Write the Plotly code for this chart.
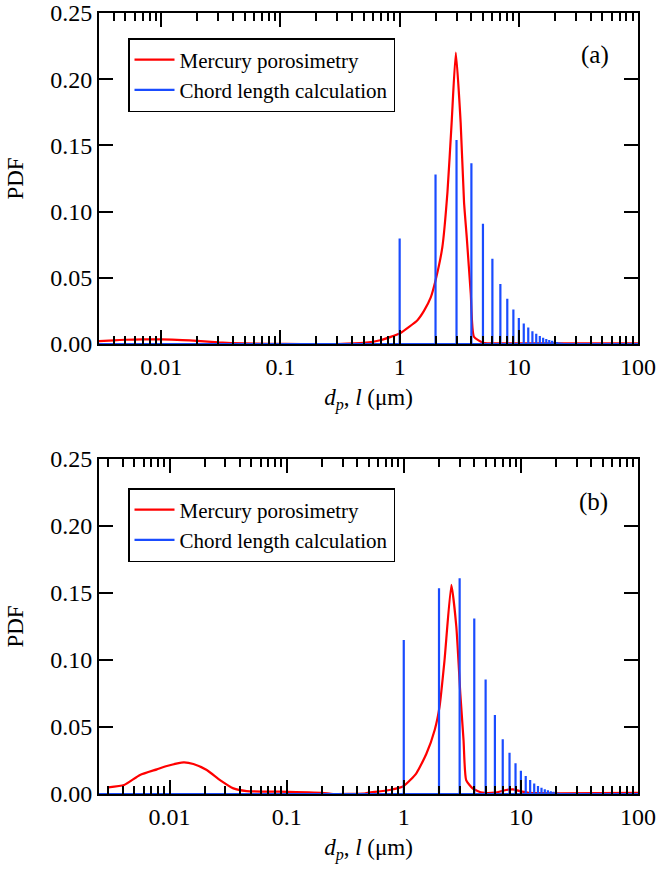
import plotly.graph_objects as go
import math

# ---------------- data ----------------
# Mercury porosimetry PDF, panel (a)
hg_a_d = [0.003, 0.004, 0.005, 0.007, 0.01, 0.015, 0.02, 0.03, 0.05, 0.08, 0.15, 0.3,
          0.5, 0.7, 1.0, 1.2, 1.41, 1.6, 1.82, 2.0, 2.28, 2.52, 2.73, 2.96, 3.25, 3.47,
          3.66, 3.95, 4.2, 5.0, 7.0, 100.0]
hg_a_pdf = [0.0022, 0.0028, 0.0032, 0.0035, 0.0035, 0.0030, 0.0023, 0.0012, 0.0004, 0.0001, 0.0, 0.0,
            0.0008, 0.0030, 0.0080, 0.0130, 0.0180, 0.0250, 0.0350, 0.0480, 0.0730, 0.1150, 0.1670, 0.2200, 0.1670, 0.1070,
            0.0800, 0.0380, 0.0055, 0.0010, 0.0005, 0.0005]

# Mercury porosimetry PDF, panel (b)
hg_b_d = [0.003, 0.0041, 0.0056, 0.0078, 0.0095, 0.0132, 0.016, 0.0208, 0.027, 0.0351,
          0.0455, 0.0875, 0.2, 0.25, 0.45, 0.5, 0.76, 1.0, 1.28, 1.56, 1.84, 2.02, 2.23, 2.55, 2.81,
          3.04, 3.24, 3.41, 3.89, 4.7, 6.0, 7.5, 8.5, 10.0, 12.0, 20.0, 100.0]
hg_b_pdf = [0.0050, 0.0067, 0.0142, 0.0184, 0.0209, 0.0236, 0.0224, 0.0179, 0.0104, 0.0042,
            0.0022, 0.0017, 0.0008, 0.0, 0.0003, 0.0010, 0.0030, 0.0060, 0.0154, 0.0300, 0.0480, 0.0650, 0.1000, 0.1560, 0.1250,
            0.0750, 0.0400, 0.0104, 0.0040, 0.0010, 0.0010, 0.0030, 0.0035, 0.0020, 0.0008, 0.0005, 0.0008]

# Chord length PDF (integer chord lengths, µm)
chord_l = [1, 2, 3, 4, 5, 6, 7, 8, 9, 10, 11, 12, 13, 14, 15, 16, 17, 18, 19, 20,
           21, 22, 23, 24, 25, 26, 27, 28, 29, 30]
chord_a = [0.0796, 0.128, 0.154, 0.1366, 0.0908, 0.0644, 0.0453, 0.0341, 0.0261, 0.0196,
           0.0154, 0.0124, 0.0097, 0.0077, 0.0060, 0.0048, 0.0038, 0.0030, 0.0024, 0.0019,
           0.0015, 0.0012, 0.0010, 0.0008, 0.0006, 0.0005, 0.0004, 0.0003, 0.0002, 0.0002]
chord_b = [0.115, 0.1535, 0.161, 0.131, 0.0855, 0.059, 0.0408, 0.0308, 0.0229, 0.0174,
           0.0134, 0.0104, 0.0078, 0.0060, 0.0046, 0.0036, 0.0028, 0.0021, 0.0016, 0.0012,
           0.0009, 0.0007, 0.0005, 0.0004, 0.0003, 0.0002, 0.0002, 0.0001, 0.0001, 0.0001]

x_range_a = [0.003, 100]
x_range_b = [0.0025, 100]
x_tickvals = [0.01, 0.1, 1, 10, 100]
x_ticktext = ["0.01", "0.1", "1", "10", "100"]
y_tickvals = [0.0, 0.05, 0.10, 0.15, 0.20, 0.25]
y_ticktext = ["0.00", "0.05", "0.10", "0.15", "0.20", "0.25"]
panel_labels = ["(a)", "(b)"]
series_names = ["Mercury porosimetry", "Chord length calculation"]

RED = "#ff0000"
BLUE = "#1a4cff"
FONT = "Liberation Serif"


def stick_series(lengths, heights, xr):
    xs, ys = [xr[0]], [0.0]
    for l, h in zip(lengths, heights):
        xs += [l, l, l]
        ys += [0.0, h, 0.0]
    xs.append(xr[1])
    ys.append(0.0)
    return xs, ys


minor_vals = []
for e in range(-3, 2):
    for m in range(2, 10):
        minor_vals.append(m * 10 ** e)

fig = go.Figure()

panels = [
    (hg_a_d, hg_a_pdf, chord_a, x_range_a, "x", "y", "legend"),
    (hg_b_d, hg_b_pdf, chord_b, x_range_b, "x2", "y2", "legend2"),
]
for hd, hp, ch, xr, xa, ya, lg in panels:
    fig.add_trace(go.Scatter(x=hd, y=hp, mode="lines", name=series_names[0],
                             line=dict(color=RED, width=2.2, shape="spline", smoothing=0.5),
                             xaxis=xa, yaxis=ya, legend=lg))
    sx, sy = stick_series(chord_l, ch, xr)
    fig.add_trace(go.Scatter(x=sx, y=sy, mode="lines", name=series_names[1],
                             line=dict(color=BLUE, width=2.2),
                             xaxis=xa, yaxis=ya, legend=lg))

L, R, T, B = 99, 18, 13, 79
W, H = 656, 873
ph = H - T - B
pw = W - L - R
dom_a = [(794 - 344) / ph, 1.0]
dom_b = [0.0, (794 - 459) / ph]

xtitle = "<i>d</i><sub><i>p</i></sub>, <i>l</i> (μm)"


def xaxis(xr, anchor):
    return dict(type="log", range=[math.log10(xr[0]), math.log10(xr[1])],
                anchor=anchor, domain=[0, 1], automargin=False,
                showline=True, linecolor="black", linewidth=2, mirror="allticks",
                ticks="inside", ticklen=14, tickwidth=2, tickcolor="black",
                tickvals=x_tickvals, ticktext=x_ticktext,
                minor=dict(tickvals=minor_vals, ticks="inside", ticklen=8,
                           tickwidth=2, tickcolor="black", showgrid=False),
                showgrid=False, zeroline=False,
                tickfont=dict(family=FONT, size=24, color="black"),
                ticklabelstandoff=0, ticklabeloverflow="allow",
                title=dict(text=xtitle, font=dict(family=FONT, size=23, color="black"),
                           standoff=10))


def yaxis(dom, anchor):
    return dict(range=[0, 0.25], domain=dom, anchor=anchor, automargin=False,
                showline=True, linecolor="black", linewidth=2, mirror="allticks",
                ticks="inside", ticklen=14, tickwidth=2, tickcolor="black",
                tickvals=y_tickvals, ticktext=y_ticktext,
                showgrid=False, zeroline=False,
                tickfont=dict(family=FONT, size=24, color="black"),
                ticklabelstandoff=0, ticklabeloverflow="allow",
                title=dict(text="PDF", font=dict(family=FONT, size=23, color="black"),
                           standoff=20))


leg_common = dict(font=dict(family=FONT, size=21, color="black"),
                  bordercolor="black", borderwidth=1.5, bgcolor="white",
                  xanchor="left", yanchor="top", tracegroupgap=0, itemwidth=40)

fig.update_layout(
    width=W, height=H,
    margin=dict(l=L, r=R, t=T, b=B),
    paper_bgcolor="white", plot_bgcolor="white",
    xaxis=xaxis(x_range_a, "y"),
    yaxis=yaxis(dom_a, "x"),
    xaxis2=xaxis(x_range_b, "y2"),
    yaxis2=yaxis(dom_b, "x2"),
    legend=dict(x=(128 - L) / pw, y=(794 - 38) / ph, **leg_common),
    legend2=dict(x=(128 - L) / pw, y=(794 - 488) / ph, **leg_common),
    annotations=[
        dict(text=panel_labels[0], x=(595 - L) / pw, y=(794 - 55) / ph, xref="paper", yref="paper",
             xanchor="center", yanchor="middle",
             showarrow=False, font=dict(family=FONT, size=25, color="black")),
        dict(text=panel_labels[1], x=(593 - L) / pw, y=(794 - 502) / ph, xref="paper", yref="paper",
             xanchor="center", yanchor="middle",
             showarrow=False, font=dict(family=FONT, size=25, color="black")),
    ],
)

fig.write_html("out.html")
